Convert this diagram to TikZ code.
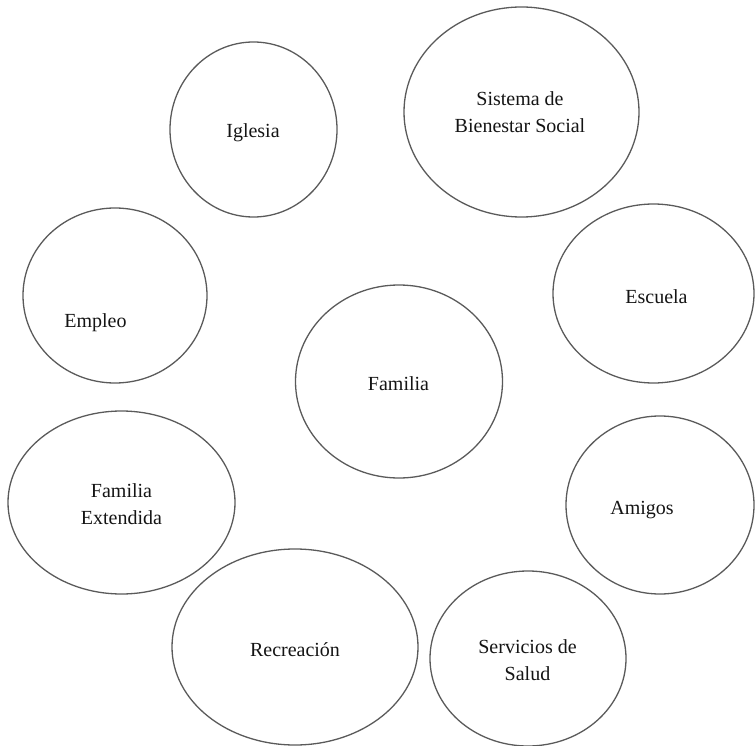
\documentclass[tikz,border=0pt]{standalone}
\usepackage{fontspec}
\setmainfont{Liberation Serif}
\usetikzlibrary{shapes.geometric}
\definecolor{edge}{RGB}{90,90,90}
\definecolor{ink}{RGB}{20,20,20}
\begin{document}
\begin{tikzpicture}[x=1pt,y=-1pt,
  oval/.style={draw=edge,line width=1.3pt,ellipse,inner sep=0pt},
  lbl/.style={text=ink,font=\fontsize{20}{27}\selectfont,inner sep=0pt,anchor=base,align=center}]
\useasboundingbox (0,0) rectangle (755,746);
% ellipses
\node[oval,minimum width=167pt,minimum height=175pt] (iglesia) at (253.5,129.5) {};
\node[oval,minimum width=235pt,minimum height=210pt] (sistema) at (521.5,112) {};
\node[oval,minimum width=184pt,minimum height=175pt] (empleo) at (115,295.5) {};
\node[oval,minimum width=201pt,minimum height=179pt] (escuela) at (653.5,293.5) {};
\node[oval,minimum width=207pt,minimum height=193pt] (familia) at (399,381.5) {};
\node[oval,minimum width=227pt,minimum height=183pt] (extendida) at (121.5,502.5) {};
\node[oval,minimum width=188pt,minimum height=178pt] (amigos) at (660,505) {};
\node[oval,minimum width=246pt,minimum height=196pt] (recreacion) at (295,647) {};
\node[oval,minimum width=196pt,minimum height=175pt] (servicios) at (528,658.5) {};
% labels (base = baseline of the last line)
\node[lbl] (iglesiaT) at (253,138) {Iglesia};
\node[lbl] (sistemaT) at (520,133) {Sistema de\\Bienestar Social};
\node[lbl] (empleoT) at (95.5,327) {Empleo};
\node[lbl] (escuelaT) at (656.5,303) {Escuela};
\node[lbl] (familiaT) at (398.5,390) {Familia};
\node[lbl] (extendidaT) at (121.5,524) {Familia\\Extendida};
\node[lbl] (amigosT) at (642,514) {Amigos};
\node[lbl] (recreacionT) at (295,656) {Recreación};
\node[lbl] (serviciosT) at (527.5,680) {Servicios de\\Salud};
\end{tikzpicture}
\end{document}
